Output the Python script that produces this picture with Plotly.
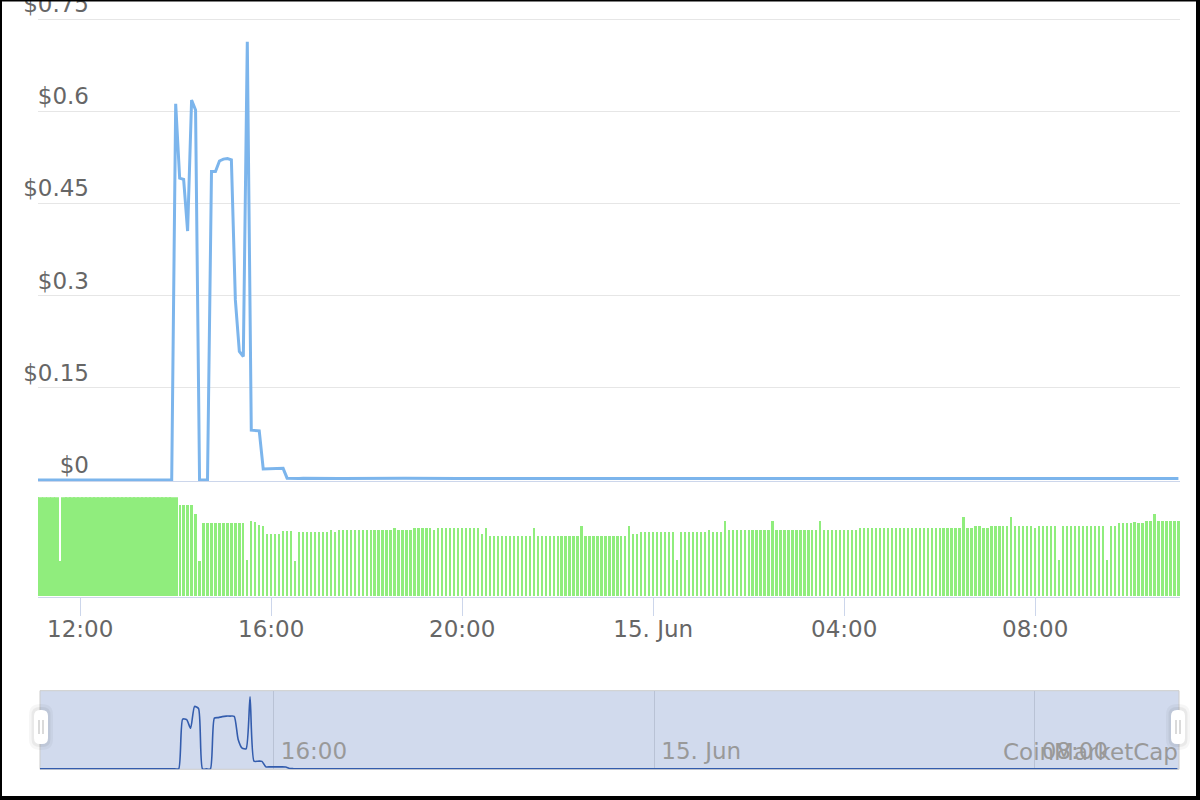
import pandas as pd
import plotly.graph_objects as go

# ---------------------------------------------------------------
# data: 5-minute grid, 14 Jun 11:05 -> 15 Jun 11:00
# ---------------------------------------------------------------
times = pd.date_range("2019-06-14 11:05", "2019-06-15 11:00", freq="5min")

price_before = [
    0.0, 0.0, 0.0, 0.0, 0.0, 0.0, 0.0, 0.0, 0.0, 0.0, 0.0, 0.0,
    0.0, 0.0, 0.0, 0.0, 0.0, 0.0, 0.0, 0.0, 0.0, 0.0, 0.0, 0.0,
    0.0, 0.0, 0.0, 0.0, 0.0, 0.0, 0.0, 0.0, 0.0, 0.0, 0.0,
]
# 14:00 -> 16:20
price_spike = [
    0.612, 0.491, 0.489, 0.405, 0.618, 0.602, 0.0, 0.0, 0.0, 0.502,
    0.502, 0.519, 0.522, 0.523, 0.521, 0.293, 0.209, 0.201, 0.713, 0.081,
    0.081, 0.080, 0.018, 0.018, 0.018, 0.019, 0.019, 0.019, 0.003,
]
# 16:25 -> 11:00
price_after = [
    0.0026, 0.0025, 0.0025, 0.0027, 0.0028, 0.0027, 0.0026, 0.0025, 0.0025, 0.0026, 0.0027, 0.0026, 0.0025, 0.0024, 0.0025, 0.0026,
    0.0026, 0.0027, 0.0027, 0.0026, 0.0025, 0.0025, 0.0024, 0.0024, 0.0025, 0.0026, 0.0026, 0.0027, 0.0028, 0.0027, 0.0026, 0.0025,
    0.0025, 0.0024, 0.0024, 0.0025, 0.0025, 0.0026, 0.0026, 0.0025, 0.0024, 0.0024, 0.0025, 0.0026, 0.0027, 0.0026, 0.0025, 0.0025,
    0.0024, 0.0024, 0.0023, 0.0024, 0.0025, 0.0025, 0.0024, 0.0024, 0.0025, 0.0026, 0.0025, 0.0024, 0.0024, 0.0023, 0.0024, 0.0024,
    0.0025, 0.0025, 0.0024, 0.0023, 0.0023, 0.0024, 0.0025, 0.0025, 0.0024, 0.0024, 0.0025, 0.0025, 0.0024, 0.0023, 0.0024, 0.0024,
    0.0024, 0.0025, 0.0024, 0.0024, 0.0023, 0.0023, 0.0024, 0.0024, 0.0025, 0.0024, 0.0024, 0.0023, 0.0024, 0.0024, 0.0025, 0.0024,
    0.0024, 0.0024, 0.0023, 0.0023, 0.0024, 0.0025, 0.0025, 0.0024, 0.0023, 0.0023, 0.0024, 0.0024, 0.0024, 0.0025, 0.0024, 0.0023,
    0.0023, 0.0024, 0.0024, 0.0025, 0.0025, 0.0024, 0.0024, 0.0023, 0.0024, 0.0024, 0.0025, 0.0024, 0.0024, 0.0023, 0.0023, 0.0024,
    0.0024, 0.0025, 0.0025, 0.0024, 0.0024, 0.0024, 0.0023, 0.0024, 0.0024, 0.0025, 0.0024, 0.0024, 0.0024, 0.0025, 0.0025, 0.0024,
    0.0024, 0.0023, 0.0024, 0.0024, 0.0025, 0.0025, 0.0024, 0.0024, 0.0024, 0.0023, 0.0024, 0.0024, 0.0025, 0.0024, 0.0024, 0.0024,
    0.0024, 0.0025, 0.0025, 0.0024, 0.0024, 0.0023, 0.0024, 0.0025, 0.0025, 0.0024, 0.0024, 0.0024, 0.0025, 0.0025, 0.0024, 0.0024,
    0.0023, 0.0024, 0.0024, 0.0025, 0.0025, 0.0024, 0.0024, 0.0024, 0.0025, 0.0025, 0.0025, 0.0024, 0.0024, 0.0024, 0.0025, 0.0025,
    0.0025, 0.0024, 0.0024, 0.0025, 0.0025, 0.0025, 0.0024, 0.0024, 0.0025, 0.0025, 0.0026, 0.0025, 0.0025, 0.0024, 0.0025, 0.0025,
    0.0025, 0.0026, 0.0025, 0.0025, 0.0025, 0.0026, 0.0026, 0.0025, 0.0025, 0.0025, 0.0026, 0.0026, 0.0025, 0.0025, 0.0026, 0.0026,
]
price = price_before + price_spike + price_after

# volume, relative units (panel top = 100); 11:05 -> 14:00
volume_before = [
    100, 100, 100, 100, 100, 100, 35.4, 100, 100, 100, 100, 100,
    100, 100, 100, 100, 100, 100, 100, 100, 100, 100, 100, 100,
    100, 100, 100, 100, 100, 100, 100, 100, 100, 100, 100, 100,
]
# 14:05 -> 11:00, one row per hour
volume_after = [
    91.5, 91.5, 91.5, 91.5, 83.2, 35.4, 73.3, 73.3, 73.3, 73.3, 73.3, 73.3,
    73.3, 73.3, 73.3, 73.3, 73.3, 37.0, 75.7, 75.0, 71.6, 70.6, 63.2, 63.2,
    63.2, 63.2, 65.6, 65.6, 65.6, 35.4, 65.0, 65.0, 65.0, 65.0, 65.0, 65.0,
    65.0, 65.0, 66.5, 65.0, 66.5, 66.5, 66.5, 66.5, 66.5, 66.5, 66.5, 66.5,
    66.5, 66.5, 66.5, 66.5, 66.5, 66.5, 68.8, 67.0, 67.0, 67.0, 67.0, 68.8,
    68.8, 68.8, 68.8, 68.8, 67.0, 68.8, 68.8, 68.8, 68.8, 68.8, 68.8, 68.8,
    68.8, 68.8, 68.8, 68.8, 63.2, 68.8, 60.8, 60.8, 60.8, 60.8, 60.8, 60.8,
    60.8, 60.8, 60.8, 60.8, 60.8, 68.8, 60.8, 60.8, 60.8, 60.8, 60.8, 60.8,
    60.8, 60.8, 60.8, 60.8, 60.8, 71.2, 60.8, 60.8, 60.8, 60.8, 60.8, 60.8,
    60.8, 60.8, 60.8, 60.8, 60.8, 71.2, 63.2, 63.2, 65.0, 65.0, 65.0, 65.0,
    65.0, 65.0, 65.0, 65.0, 65.0, 37.0, 65.0, 65.0, 65.0, 65.0, 65.0, 65.0,
    65.0, 67.0, 65.0, 65.0, 65.0, 75.7, 67.0, 67.0, 67.0, 67.0, 67.0, 67.0,
    67.0, 67.0, 67.0, 67.0, 67.0, 75.7, 67.0, 67.0, 67.0, 67.0, 67.0, 67.0,
    67.0, 67.0, 67.0, 67.0, 67.0, 75.7, 67.0, 67.0, 67.0, 67.0, 67.0, 67.0,
    67.0, 67.0, 67.0, 69.2, 69.2, 69.2, 69.2, 69.2, 69.2, 69.2, 69.2, 69.2,
    69.2, 69.2, 69.2, 69.2, 69.2, 69.2, 69.2, 69.2, 69.2, 69.2, 69.2, 69.2,
    69.2, 69.2, 69.2, 69.2, 69.2, 79.8, 69.0, 69.0, 71.2, 70.6, 69.0, 69.0,
    71.2, 71.2, 71.2, 71.2, 71.2, 79.8, 71.2, 71.2, 71.2, 71.2, 71.2, 69.0,
    71.2, 71.2, 71.2, 71.2, 71.2, 37.0, 71.2, 71.2, 71.2, 71.2, 71.2, 71.2,
    71.2, 71.2, 71.2, 71.2, 71.2, 37.0, 71.2, 71.2, 73.3, 73.3, 73.3, 73.3,
    74.7, 73.3, 73.3, 75.7, 75.7, 83.2, 75.7, 75.7, 75.7, 75.7, 75.7, 75.7,
]
volume = volume_before + volume_after

# navigator series (grouped data, smoothed)
nav_times = [
    "2019-06-14 11:05", "2019-06-14 13:55", "2019-06-14 14:00", "2019-06-14 14:05",
    "2019-06-14 14:10", "2019-06-14 14:15", "2019-06-14 14:20", "2019-06-14 14:25",
    "2019-06-14 14:30", "2019-06-14 14:35", "2019-06-14 14:40", "2019-06-14 14:45",
    "2019-06-14 14:50", "2019-06-14 14:55", "2019-06-14 15:00", "2019-06-14 15:05",
    "2019-06-14 15:10", "2019-06-14 15:15", "2019-06-14 15:20", "2019-06-14 15:25",
    "2019-06-14 15:30", "2019-06-14 15:35", "2019-06-14 15:40", "2019-06-14 15:45",
    "2019-06-14 15:50", "2019-06-14 15:55", "2019-06-14 16:00", "2019-06-14 16:05",
    "2019-06-14 16:10", "2019-06-14 16:15", "2019-06-14 16:20", "2019-06-14 16:25",
    "2019-06-15 11:00",
]
nav_price = [
    0.0, 0.0, 0.0, 0.49,
    0.485, 0.40, 0.615, 0.595,
    0.0, 0.0, 0.0, 0.50,
    0.505, 0.515, 0.52, 0.52,
    0.518, 0.29, 0.205, 0.198,
    0.711, 0.076, 0.076, 0.074,
    0.02, 0.02, 0.02, 0.02,
    0.02, 0.018, 0.004, 0.002,
    0.002,
]

y_ticks = [0, 0.15, 0.3, 0.45, 0.6, 0.75]
y_tick_labels = ["$0", "$0.15", "$0.3", "$0.45", "$0.6", "$0.75"]
x_tick_times = ["2019-06-14 12:00", "2019-06-14 16:00", "2019-06-14 20:00",
                "2019-06-15 00:00", "2019-06-15 04:00", "2019-06-15 08:00"]
x_tick_labels = ["12:00", "16:00", "20:00", "15. Jun", "04:00", "08:00"]
nav_tick_times = ["2019-06-14 16:00", "2019-06-15 00:00", "2019-06-15 08:00"]
nav_tick_labels = ["16:00", "15. Jun", "08:00"]

main_range = ["2019-06-14 11:07", "2019-06-15 11:02"]
nav_range = ["2019-06-14 11:05", "2019-06-15 11:02"]

# ---------------------------------------------------------------
# pixel helpers (figure has zero margins, paper == page)
# ---------------------------------------------------------------
W, H = 1200, 800


def px(x):
    return x / W


def py(y):
    return 1 - y / H


MIN = 60 * 1000
start_spike = pd.Timestamp("2019-06-14 14:00")
bar_width = []
for t in times:
    if t < start_spike:
        bar_width.append(7 * MIN)
    elif t == start_spike:
        bar_width.append(5 * MIN)
    else:
        bar_width.append(2.9 * MIN)

FONT = "DejaVu Sans"
PER_PX = 0.75 / 461          # price units per pixel in the main panel

fig = go.Figure()

fig.add_trace(go.Scatter(
    x=times, y=price, mode="lines",
    line=dict(color="#7cb5ec", width=3),
    xaxis="x", yaxis="y", showlegend=False, hoverinfo="skip",
))

fig.add_trace(go.Bar(
    x=times, y=volume, width=bar_width,
    marker=dict(color="#90ed7d", line=dict(width=0)),
    xaxis="x2", yaxis="y2", showlegend=False, hoverinfo="skip",
))

fig.add_trace(go.Scatter(
    x=nav_times, y=nav_price, mode="lines",
    line=dict(color="#335cad", width=1.6, shape="spline", smoothing=0.6),
    xaxis="x3", yaxis="y3", showlegend=False, hoverinfo="skip",
))


def rrect(cx, cy, w, h, r):
    x0, x1 = cx - w / 2, cx + w / 2
    y0, y1 = cy - h / 2, cy + h / 2
    return (
        f"M {px(x0 + r)},{py(y0)} L {px(x1 - r)},{py(y0)} "
        f"Q {px(x1)},{py(y0)} {px(x1)},{py(y0 + r)} L {px(x1)},{py(y1 - r)} "
        f"Q {px(x1)},{py(y1)} {px(x1 - r)},{py(y1)} L {px(x0 + r)},{py(y1)} "
        f"Q {px(x0)},{py(y1)} {px(x0)},{py(y1 - r)} L {px(x0)},{py(y0 + r)} "
        f"Q {px(x0)},{py(y0)} {px(x0 + r)},{py(y0)} Z"
    )


shapes = []
# navigator mask + outline
shapes.append(dict(type="rect", xref="paper", yref="paper", layer="below",
                   x0=px(40), x1=px(1179), y0=py(769.3), y1=py(690.7),
                   fillcolor="rgba(102,133,194,0.3)", line=dict(width=0)))
shapes.append(dict(type="rect", xref="paper", yref="paper", layer="below",
                   x0=px(40), x1=px(1179), y0=py(769.3), y1=py(690.7),
                   fillcolor="rgba(0,0,0,0)", line=dict(color="#cccccc", width=1)))
# navigator handles
for cx in (41, 1178):
    shapes.append(dict(type="path", xref="paper", yref="paper", layer="above",
                       path=rrect(cx, 727, 24, 46, 11),
                       fillcolor="rgba(0,0,0,0.035)", line=dict(width=0)))
    shapes.append(dict(type="path", xref="paper", yref="paper", layer="above",
                       path=rrect(cx, 727, 19, 40, 8),
                       fillcolor="rgba(0,0,0,0.05)", line=dict(width=0)))
    shapes.append(dict(type="path", xref="paper", yref="paper", layer="above",
                       path=rrect(cx, 727, 14, 34, 6),
                       fillcolor="#ffffff", line=dict(width=0)))
    for dx in (-2, 2):
        shapes.append(dict(type="line", xref="paper", yref="paper", layer="above",
                           x0=px(cx + dx), x1=px(cx + dx), y0=py(720), y1=py(734),
                           line=dict(color="#b5b5b5", width=1)))
# black frame of the screenshot
for x0, x1, y0, y1 in [(0, 2, 0, H), (W - 4, W, 0, H), (0, W, 0, 1.5), (0, W, H - 4, H)]:
    shapes.append(dict(type="rect", xref="paper", yref="paper", layer="above",
                       x0=px(x0), x1=px(x1), y0=py(y1), y1=py(y0),
                       fillcolor="#000000", line=dict(width=0)))

fig.update_layout(
    width=W, height=H,
    margin=dict(l=0, r=0, t=0, b=0),
    paper_bgcolor="#ffffff",
    plot_bgcolor="rgba(0,0,0,0)",
    font=dict(family=FONT, color="#666666"),
    showlegend=False,
    bargap=0,
    shapes=shapes,
    xaxis=dict(
        domain=[px(38), px(1180)], range=main_range, type="date",
        anchor="y", showticklabels=False, ticks="", showgrid=False,
        zeroline=False, showline=True, linecolor="#ccd6eb", linewidth=1,
        layer="below traces", automargin=False,
    ),
    yaxis=dict(
        domain=[py(481), py(15)], range=[-PER_PX, 0.75 + 4 * PER_PX],
        anchor="x", tickvals=y_ticks, ticktext=y_tick_labels, ticks="",
        showgrid=True, gridcolor="#e6e6e6", gridwidth=1,
        zeroline=False, showline=False,
        tickfont=dict(family=FONT, size=23, color="#666666"),
        ticklabelstandoff=-52, ticklabelshift=-15,
        ticklabeloverflow="allow", automargin=False,
    ),
    xaxis2=dict(
        domain=[px(38), px(1180)], range=main_range, type="date",
        anchor="y2", tickvals=x_tick_times, ticktext=x_tick_labels,
        ticks="outside", ticklen=18, tickwidth=1, tickcolor="#ccd6eb",
        showgrid=False, zeroline=False, showline=True,
        linecolor="#ccd6eb", linewidth=1, ticklabelstandoff=-6,
        tickfont=dict(family=FONT, size=23, color="#666666"),
        automargin=False,
    ),
    yaxis2=dict(
        domain=[py(596.5), py(497.3)], range=[0, 100], anchor="x2",
        showticklabels=False, ticks="", showgrid=False, zeroline=False,
        showline=False, automargin=False,
    ),
    xaxis3=dict(
        domain=[px(40), px(1179)], range=nav_range, type="date",
        anchor="y3", tickvals=nav_tick_times, ticktext=nav_tick_labels,
        ticks="", ticklabelposition="inside right", ticklabelshift=7,
        showgrid=True, gridcolor="#b9c2d5", gridwidth=1,
        zeroline=False, showline=False,
        tickfont=dict(family=FONT, size=23, color="#999999"),
        automargin=False,
    ),
    yaxis3=dict(
        domain=[py(769.3), py(690.7)], range=[-0.004, 0.77], anchor="x3",
        visible=False, showgrid=False, zeroline=False,
    ),
    annotations=[dict(
        text="CoinMarketCap", xref="paper", yref="paper",
        x=px(1180), y=py(752), xanchor="right", yanchor="middle",
        showarrow=False, font=dict(family=FONT, size=23, color="#999999"),
    )],
)

fig.write_html(
    "out.html",
    config=dict(displayModeBar=False),
    post_script="document.body.style.margin='0';document.body.style.overflow='hidden';",
)
